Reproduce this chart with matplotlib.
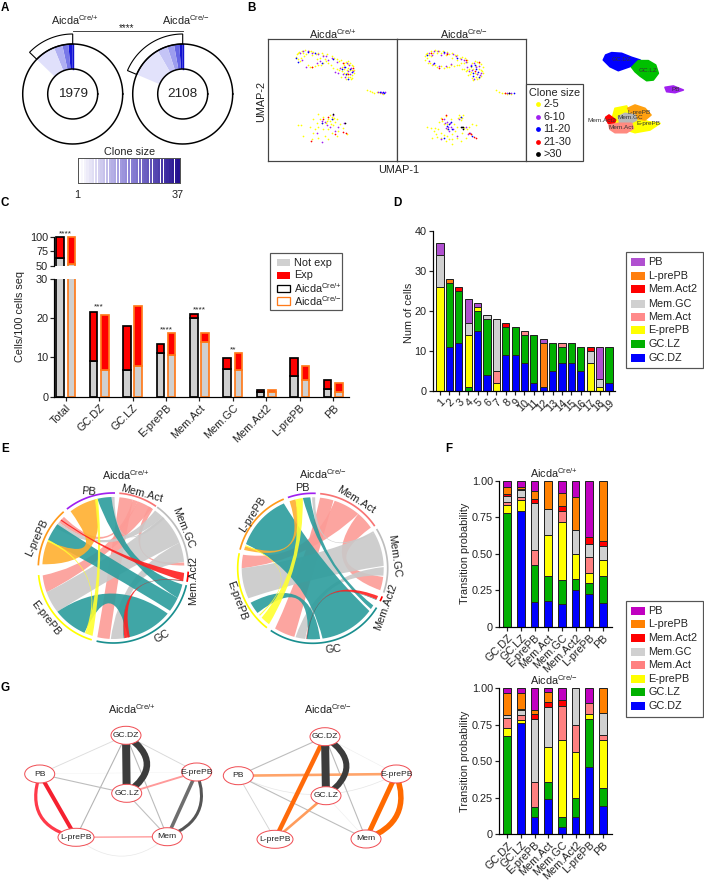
import numpy as np
import matplotlib
matplotlib.use("Agg")
import matplotlib.pyplot as plt
from matplotlib.colors import LinearSegmentedColormap
from matplotlib.patches import Ellipse, PathPatch, Polygon, Rectangle
from matplotlib.path import Path

plt.rcParams['font.family'] = ['Liberation Sans', 'DejaVu Sans']
plt.rcParams['mathtext.default'] = 'regular'

W, H = 704, 883
WT = 'Aicda$^{Cre/{+}}$'
KO = 'Aicda$^{Cre/{-}}$'

# ---- panel A
clone_totals = ['1979', '2108']
clone_edges_wt = [0, 5, 12, 22, 46]
clone_edges_ko = [0, 4, 10, 18, 30, 67]
clone_cols_wt = ['#1616d8', '#7878e8', '#b0b0f2', '#e0e0fb']
clone_cols_ko = ['#1212d0', '#6464e4', '#9c9cee', '#c4c4f6', '#e2e2fb']
clone_sizes = list(range(1, 38))

# ---- panel B, points as read from the two UMAP frames
umap_wt = {
    '#ffff00': [(85, 45), (92, 38), (100, 35), (110, 33), (122, 34), (135, 38), (148, 40), (160, 42), (175, 44),
                (190, 50), (205, 58), (218, 62), (232, 68), (245, 70), (255, 80), (240, 85), (228, 78), (222, 95),
                (235, 100), (250, 92), (258, 100), (245, 112), (232, 118), (218, 112), (205, 90), (195, 85),
                (180, 72), (165, 70), (150, 78), (130, 82), (118, 78), (88, 60), (98, 55), (108, 50), (155, 55),
                (170, 58), (240, 75), (228, 90), (252, 108), (297, 152), (305, 155), (318, 160), (335, 160),
                (345, 163), (135, 240), (150, 225), (165, 232), (180, 240), (190, 232), (198, 236), (205, 240),
                (160, 250), (172, 252), (185, 245), (150, 262), (140, 270), (125, 262), (165, 270), (180, 268),
                (195, 258), (215, 255), (225, 265), (210, 275), (190, 280), (170, 290), (150, 295), (130, 300),
                (105, 290), (135, 280), (88, 258), (98, 258), (205, 290), (180, 300), (235, 285),
                (82, 52), (88, 42), (105, 40), (128, 36), (142, 44), (165, 46), (198, 55), (212, 66), (226, 72),
                (238, 66), (250, 76), (244, 92), (232, 108), (256, 92), (226, 102), (212, 92), (188, 78), (172, 66),
                (158, 76), (140, 80), (124, 84), (94, 66), (112, 44), (130, 48), (146, 60), (238, 112), (252, 116),
                (248, 120), (220, 84), (236, 92), (310, 157), (325, 158), (186, 228), (194, 240), (176, 246),
                (156, 240), (145, 250), (200, 248), (188, 255)],
    '#a020f0': [(95, 40), (118, 35), (150, 45), (165, 50), (180, 62), (155, 65), (100, 62), (205, 68), (215, 85),
                (235, 72), (248, 85), (238, 95), (225, 105), (245, 105), (200, 98), (340, 162), (350, 158),
                (328, 158), (195, 228), (175, 258), (160, 245), (145, 282), (160, 308), (228, 250), (210, 262),
                (105, 36), (130, 40), (172, 50), (192, 56), (145, 72), (112, 82), (228, 84), (242, 78), (254, 96),
                (230, 114), (210, 100), (338, 158), (170, 248), (185, 262), (200, 275)],
    '#0000ff': [(83, 55), (90, 68), (140, 42), (160, 72), (195, 60), (230, 82), (250, 98), (240, 118), (222, 88),
                (345, 158), (335, 158), (190, 238), (160, 250), (244, 88), (234, 104), (120, 38), (348, 162)],
    '#ff0000': [(130, 83), (240, 105), (225, 72), (255, 85), (165, 240), (200, 285), (232, 282), (225, 278),
                (128, 305), (180, 232)],
    '#000000': [(195, 225), (230, 250)],
}
umap_ko = {
    '#ffff00': [(82, 50), (90, 40), (100, 36), (112, 33), (125, 34), (138, 36), (150, 38), (165, 42), (180, 46),
                (195, 52), (208, 62), (200, 72), (185, 76), (170, 80), (155, 82), (140, 85), (120, 84), (105, 78),
                (92, 70), (84, 62), (100, 50), (120, 42), (145, 48), (165, 55), (180, 62), (195, 90), (205, 95),
                (215, 88), (225, 72), (240, 68), (250, 75), (255, 95), (250, 110), (240, 120), (225, 115),
                (212, 108), (232, 100), (245, 90), (220, 98), (235, 80), (295, 153), (305, 158), (322, 162),
                (340, 165), (130, 235), (145, 230), (185, 228), (195, 235), (190, 242), (125, 248), (140, 255),
                (170, 255), (150, 270), (130, 280), (115, 285), (105, 295), (130, 295), (150, 290), (165, 300),
                (165, 315), (180, 295), (195, 280), (210, 270), (225, 255), (235, 258), (88, 263), (100, 265),
                (110, 275), (178, 262), (220, 285), (205, 295), (190, 305), (145, 305), (122, 270),
                (86, 44), (94, 48), (106, 42), (118, 36), (132, 40), (155, 44), (172, 48), (188, 56), (204, 56),
                (210, 68), (192, 72), (178, 78), (162, 76), (148, 84), (130, 80), (112, 76), (98, 72), (88, 56),
                (200, 88), (210, 92), (222, 84), (232, 66), (244, 72), (256, 84), (258, 102), (246, 116), (236, 112),
                (218, 104), (228, 90), (240, 104), (252, 92), (228, 122), (315, 160), (330, 164), (188, 234),
                (182, 235), (198, 228), (135, 245), (160, 240), (172, 275), (155, 298), (140, 288), (120, 292),
                (112, 265), (200, 265), (215, 262), (150, 255), (165, 285)],
    '#a020f0': [(95, 42), (110, 36), (130, 48), (150, 42), (175, 50), (190, 60), (160, 75), (125, 80), (95, 66),
                (205, 68), (230, 72), (245, 80), (225, 92), (238, 105), (215, 95), (250, 100), (328, 160),
                (342, 160), (150, 248), (160, 262), (145, 265), (155, 275), (140, 240), (185, 238), (130, 298),
                (205, 262), (212, 285), (104, 46), (122, 34), (140, 42), (168, 44), (200, 62), (145, 80), (108, 74),
                (222, 76), (236, 84), (248, 108), (230, 118), (210, 84), (152, 262), (158, 252), (168, 268),
                (142, 250), (180, 290), (218, 280)],
    '#0000ff': [(88, 48), (110, 72), (140, 38), (180, 55), (235, 88), (228, 110), (242, 98), (220, 80), (335, 160),
                (350, 160), (155, 255), (148, 260), (165, 268), (140, 295), (225, 290), (192, 232), (232, 76),
                (226, 100), (244, 112), (160, 248), (152, 270)],
    '#ff0000': [(100, 42), (125, 85), (150, 45), (205, 62), (232, 95), (245, 68), (322, 162), (135, 238), (145, 228),
                (215, 280), (230, 292), (235, 296), (222, 285)],
    '#000000': [(193, 264), (198, 262), (190, 262), (196, 268), (335, 161)],
}
clone_labels = ['2-5', '6-10', '11-20', '21-30', '>30']
clone_cols = ['#ffff00', '#a020f0', '#0000ff', '#ff0000', '#000000']
blobs = [
    ('#0000ff', [(55, 60), (62, 45), (80, 38), (110, 40), (140, 52), (165, 60), (178, 72), (160, 80), (140, 78),
                 (120, 85), (100, 92), (75, 80)]),
    ('#00c000', [(140, 82), (160, 62), (190, 62), (212, 75), (220, 100), (205, 120), (185, 122), (165, 108),
                 (150, 95)]),
    ('#a020f0', [(240, 142), (265, 138), (295, 150), (270, 158), (245, 155)]),
    ('#ffff00', [(80, 240), (90, 205), (125, 198), (135, 225), (190, 245), (225, 250), (195, 270), (150, 278),
                 (100, 262)]),
    ('#ffa010', [(128, 205), (150, 195), (180, 205), (198, 225), (180, 240), (150, 235)]),
    ('#b8b8b8', [(100, 230), (120, 220), (150, 225), (155, 240), (135, 250), (105, 250)]),
    ('#ff0000', [(62, 232), (72, 225), (92, 240), (85, 255), (70, 250)]),
    ('#ff8a80', [(72, 255), (100, 250), (140, 250), (145, 265), (125, 278), (90, 278), (75, 268)]),
]
blob_names = ['GC.DZ', 'GC.LZ', 'PB', 'L-prePB', 'Mem.GC', 'Mem.Act2', 'Mem.Act', 'E-prePB']
blob_spots = [(110, 58), (190, 90), (272, 148), (163, 218), (135, 232), (50, 241), (108, 262), (190, 252)]

# ---- panel C
expr_cats = ['Total', 'GC.DZ', 'GC.LZ', 'E-prePB', 'Mem.Act', 'Mem.GC', 'Mem.Act2', 'L-prePB', 'PB']
not_exp_wt = [63, 9.2, 6.7, 11, 20, 7, 1.3, 5.3, 1.9]
total_wt = [100, 21.5, 18, 13.5, 21, 9.9, 1.8, 9.8, 4.3]
not_exp_ko = [53, 6.7, 7.7, 10.5, 14, 6.7, 1.1, 4.3, 1.3]
total_ko = [100, 20.7, 23, 16.2, 16.2, 11, 1.8, 7.7, 3.4]
stars_c = {0: ('****', 104.2), 1: ('***', 22.8), 3: ('****', 16.9), 4: ('****', 22.1), 5: ('**', 12)}

# ---- panel D
state_names = ['GC.DZ', 'GC.LZ', 'E-prePB', 'Mem.Act', 'Mem.GC', 'Mem.Act2', 'L-prePB', 'PB']
d_cols = ['#0000ff', '#00b000', '#ffff00', '#ff8a8a', '#d0d0d0', '#ff0000', '#ff7f0e', '#b050d0']
clones = list(range(1, 20))
n_dz = [0, 11, 12, 0, 15, 4, 0, 9, 9, 7, 2, 1, 5, 7, 7, 5, 0, 0, 2]
n_lz = [0, 16, 13, 1, 5, 14, 0, 7, 7, 7, 12, 0, 7, 4, 5, 6, 0, 0, 9]
n_ep = [26, 0, 0, 13, 1, 0, 2, 0, 0, 0, 0, 0, 0, 0, 0, 0, 7, 1, 0]
n_ma = [0, 0, 0, 0, 0, 0, 3, 0, 0, 1, 0, 0, 0, 1, 0, 0, 0, 0, 0]
n_mg = [8, 0, 0, 3, 0, 1, 13, 0, 0, 0, 0, 0, 0, 0, 0, 0, 3, 2, 0]
n_a2 = [0, 0, 1, 0, 0, 0, 0, 1, 0, 0, 0, 0, 0, 0, 0, 0, 1, 0, 0]
n_lp = [0, 1, 0, 0, 0, 0, 0, 0, 0, 0, 0, 11, 0, 0, 0, 0, 0, 0, 0]
n_pb = [3, 0, 0, 6, 1, 0, 0, 0, 0, 0, 0, 1, 0, 0, 0, 0, 0, 8, 0]

# ---- panel F, cumulative tops per state, rows in order of state_names
f_cats = ['GC.DZ', 'GC.LZ', 'E-prePB', 'Mem.Act', 'Mem.GC', 'Mem.Act2', 'L-prePB', 'PB']
f_cols = ['#0000ff', '#00b000', '#ffff00', '#ff8080', '#d0d0d0', '#ff0000', '#ff8000', '#c000c0']
tops_wt = [
    [0, .79, .17, .175, .155, .25, .225, .165],
    [.78, .79, .42, .345, .32, .33, .30, .35],
    [.835, .87, .42, .63, .715, .495, .37, .455],
    [.855, .89, .525, .63, .795, .495, .475, .46],
    [.895, .935, .845, .805, .795, .665, .565, .555],
    [.91, .94, .875, .805, .83, .665, .615, .585],
    [.96, .96, .93, 1, .915, .885, .615, 1],
    [1, 1, 1, 1, 1, 1, 1, 1],
]
tops_ko = [
    [0, .76, .12, .24, .05, .12, .46, .19],
    [.675, .76, .185, .36, .12, .25, .79, .315],
    [.725, .785, .185, .595, .645, .56, .825, .645],
    [.795, .82, .355, .595, .88, .75, .90, .68],
    [.815, .85, .79, .87, .88, 1, .90, .83],
    [.82, .86, .825, .905, .92, 1, .90, .83],
    [.965, .97, .85, .975, .92, 1, .90, 1],
    [1, 1, 1, 1, 1, 1, 1, 1],
]

# ---- panel E, sectors and ribbons in degrees clockwise from 12 o'clock
sector_cols = {'Mem.Act': '#f87474', 'Mem.GC': '#bdbdbd', 'Mem.Act2': '#ff0000', 'GC': '#1a8f8f',
               'E-prePB': '#ffff00', 'L-prePB': '#ff9a1a', 'PB': '#a020f0'}
sectors_wt = {'Mem.Act': (4.6, 34.7), 'Mem.GC': (35.8, 88.5), 'Mem.Act2': (92.8, 100.6), 'GC': (103.2, 192.9),
              'E-prePB': (196.7, 264.6), 'L-prePB': (272, 318.6), 'PB': (321.8, 361.3)}
sectors_ko = {'Mem.Act': (5.7, 55.8), 'Mem.GC': (58.4, 108.9), 'Mem.Act2': (112, 116), 'GC': (121.6, 214),
              'E-prePB': (217.6, 281.6), 'L-prePB': (284.4, 337.3), 'PB': (340.7, 362.3)}
SALMON, GREY, TEAL, ORANGE, YEL, RED = '#fc9b96', '#c9c9c9', '#2b9c9c', '#ffb030', '#ffff30', '#ff2020'
ribbons_wt = [
    (5, 16, 183, 193, SALMON), (20, 33, 250, 264, SALMON), (16, 20, 310, 316, SALMON), (30, 34, 85.5, 88, SALMON),
    (36, 44, 305, 310, GREY), (44, 69, 232, 250, GREY), (69, 85, 170, 182, GREY), (358.5, 361, 44, 46, GREY),
    (347, 358.5, 103.5, 115, TEAL), (293, 308, 115, 127, TEAL), (204, 232, 130, 168, TEAL),
    (100.2, 100.8, 171, 171.5, '#2a7c7c'),
    (323, 346, 273, 292, ORANGE),
    (197, 202, 345, 347.5, YEL), (202, 203.5, 292, 293.5, YEL),
    (94, 100.5, 312, 313, RED), (166.5, 171, 100, 100.5, RED),
]
ribbons_ko = [
    (6, 17, 195, 212, SALMON), (18, 40, 270, 281, SALMON), (40, 55, 97, 108, SALMON),
    (60, 88, 245, 270, GREY), (89, 96, 186, 194, GREY), (359.5, 362, 58.5, 60, GREY),
    (290, 336, 127, 172, TEAL), (352, 358, 121.5, 125, TEAL), (231, 241, 174, 184, TEAL),
    (116, 116.5, 184, 185, '#2a7c7c'),
    (341, 346, 285, 288, ORANGE),
    (346, 352, 218, 226, YEL), (228, 229, 288, 289, YEL),
    (113, 116, 185, 185.3, RED),
]
chord_labels_wt = [('PB', 88.7, 491.7, -5), ('Mem.Act', 141.7, 493.3, -15), ('Mem.GC', 183.3, 528.3, -68),
                   ('Mem.Act2', 192.7, 580.7, 90), ('GC', 161.7, 636, 30), ('E-prePB', 46, 618.3, -52),
                   ('L-prePB', 37.3, 537.3, 65)]
chord_labels_ko = [('PB', 302.7, 488.3, 0), ('Mem.Act', 356, 500, -32), ('Mem.GC', 394.3, 556, -82),
                   ('Mem.Act2', 386, 606.7, 70), ('GC', 333.3, 649, 5), ('E-prePB', 237.3, 600.7, -70),
                   ('L-prePB', 252.7, 515, 57)]

# ---- panel G
nodes_wt = {'GC.DZ': (126, 735.3), 'PB': (39.7, 774), 'E-prePB': (196.7, 772), 'GC.LZ': (126.7, 793.3),
            'L-prePB': (76, 837.3), 'Mem': (167.3, 836.7)}
nodes_ko = {'GC.DZ': (325, 736.7), 'PB': (238.3, 775.7), 'E-prePB': (396.3, 774), 'GC.LZ': (326, 795.7),
            'L-prePB': (275, 839.3), 'Mem': (366, 839)}
edges_wt = [
    ('PB', 'E-prePB', .5, '#f2f2f2', 0), ('L-prePB', 'Mem', .7, '#e8e8e8', -.42), ('GC.DZ', 'PB', .9, '#dddddd', 0),
    ('GC.DZ', 'E-prePB', .9, '#d8d8d8', 0), ('GC.DZ', 'L-prePB', 1.1, '#b4b4b4', 0), ('GC.DZ', 'Mem', 1.1, '#bbbbbb', 0),
    ('PB', 'GC.LZ', 1.1, '#bdbdbd', 0), ('GC.LZ', 'Mem', 1.1, '#c0c0c0', 0), ('L-prePB', 'Mem', 1.6, '#ffa8a8', 0),
    ('GC.LZ', 'E-prePB', 1.9, '#ff9a9a', 0), ('GC.DZ', 'GC.LZ', 8, '#3c3c3c', 0), ('GC.DZ', 'GC.LZ', 6.5, '#3c3c3c', .71),
    ('PB', 'L-prePB', 4, '#f5202f', 0), ('PB', 'L-prePB', 3.2, '#ff3a4a', -.55),
    ('E-prePB', 'Mem', 3.5, '#6e6e6e', 0), ('E-prePB', 'Mem', 3, '#555555', .5),
]
edges_ko = [
    ('GC.DZ', 'E-prePB', .6, '#eeeeee', 0), ('PB', 'E-prePB', .7, '#e6e6e6', -.25), ('GC.LZ', 'Mem', .6, '#eeeeee', 0),
    ('GC.DZ', 'PB', 1.1, '#bdbdbd', 0), ('PB', 'L-prePB', .9, '#d4d4d4', 0), ('PB', 'Mem', 1.1, '#bdbdbd', 0),
    ('GC.DZ', 'Mem', 1.1, '#bbbbbb', 0), ('PB', 'E-prePB', 2.6, '#ffa46a', 0), ('GC.DZ', 'L-prePB', 4.5, '#ff6a0a', 0),
    ('L-prePB', 'GC.LZ', 2.6, '#ff9c5c', 0), ('GC.DZ', 'GC.LZ', 8, '#3c3c3c', 0), ('GC.DZ', 'GC.LZ', 6, '#3c3c3c', .71),
    ('E-prePB', 'Mem', 5, '#ff6a00', 0), ('E-prePB', 'Mem', 5.5, '#ff6a00', .5),
]


def px(v):
    return v * 0.72


def px_axes(x0, y0, x1, y1):
    return fig.add_axes([x0 / W, 1 - y1 / H, (x1 - x0) / W, (y1 - y0) / H])


def polar(cx, cy, r, a):
    t = np.radians(a)
    return cx + r * np.sin(t), cy - r * np.cos(t)


def ring(cx, cy, r0, r1, a0, a1):
    aa = np.linspace(a0, a1, 40)
    pts = [polar(cx, cy, r1, a) for a in aa] + [polar(cx, cy, r0, a) for a in aa[::-1]]
    return pts


def clean(ax, lw=1.2):
    for s in ['top', 'right']:
        ax.spines[s].set_visible(False)
    for s in ['left', 'bottom']:
        ax.spines[s].set_linewidth(px(lw))
    ax.patch.set_alpha(0)
    ax.tick_params(width=px(lw), length=px(4), labelsize=7.8, pad=1.5, color='#222222', labelcolor='#222222')


def legend_box(x0, y0, x1, y1, rows, labels, cols, sx=631, tx=648.3):
    ov.add_patch(Rectangle((x0, y0), x1 - x0, y1 - y0, fc='white', ec='#555555', lw=px(1.2)))
    for y, lab, c in zip(rows, labels, cols):
        ov.add_patch(Rectangle((sx, y - 4), 14, 8, fc=c, ec='none'))
        ov.text(tx, y, lab, fontsize=7.8, va='center', color='#222222')


def draw_donut(cx, cy, edges, cols):
    ov.add_patch(Polygon(ring(cx, cy, 25, 50, 0, 360), fc='white', ec='none'))
    for i, c in enumerate(cols):
        ov.add_patch(Polygon(ring(cx, cy, 25, 50, -edges[i + 1], -edges[i]), fc=c, ec='none'))
    ov.plot([cx, cx], [cy - 50, cy - 25], color='#1010d0', lw=px(1.4))
    th = np.linspace(0, 2 * np.pi, 200)
    for r in (25, 50):
        ov.plot(cx + r * np.cos(th), cy + r * np.sin(th), color='black', lw=px(1.5))
    ov.add_patch(Polygon(ring(cx, cy, 50, 60, -edges[-1], 0), fc='white', ec='black', lw=px(1.1)))


def chord_ctrl(cx, cy, r, a, b):
    # near-diametric edges stay straighter so a band keeps its width across the middle
    gap = abs(a - b) % 360
    gap = min(gap, 360 - gap)
    k = .05 + .9 * (gap / 180) ** 4
    p, q = np.array(polar(cx, cy, r, a)), np.array(polar(cx, cy, r, b))
    return tuple(np.array([cx, cy]) + k * ((p + q) / 2 - np.array([cx, cy])))


def draw_chord(cx, cy, sectors, ribbons):
    rib_r = 71
    for a0, a1, b0, b1, c in ribbons:
        aa = np.linspace(a0, a1, 16)
        bb = np.linspace(b0, b1, 16)
        verts = [polar(cx, cy, rib_r, a) for a in aa]
        codes = [Path.MOVETO] + [Path.LINETO] * 15
        verts += [chord_ctrl(cx, cy, rib_r, a1, b0), polar(cx, cy, rib_r, bb[0])]
        codes += [Path.CURVE3, Path.CURVE3]
        verts += [polar(cx, cy, rib_r, b) for b in bb[1:]]
        codes += [Path.LINETO] * 15
        verts += [chord_ctrl(cx, cy, rib_r, b1, a0), polar(cx, cy, rib_r, a0)]
        codes += [Path.CURVE3, Path.CURVE3]
        ov.add_patch(PathPatch(Path(verts, codes), fc=c, ec='none', alpha=.9))
    for name, (a0, a1) in sectors.items():
        xy = [polar(cx, cy, 75, a) for a in np.linspace(a0, a1, 60)]
        ov.plot(*zip(*xy), color=sector_cols[name], lw=px(1.7), solid_capstyle='butt')


def draw_net(nodes, edges):
    for a, b, lw, c, bulge in edges:
        p, q = np.array(nodes[a]), np.array(nodes[b])
        if bulge == 0:
            path = Path([p, q])
        else:
            d = q - p
            ctrl = (p + q) / 2 + bulge * np.array([d[1], -d[0]])
            path = Path([p, ctrl, q], [Path.MOVETO, Path.CURVE3, Path.CURVE3])
        ov.add_patch(PathPatch(path, fc='none', ec=c, lw=px(lw), capstyle='butt'))
    for name, (x, y) in nodes.items():
        w = 36 if name == 'L-prePB' else 30
        ov.add_patch(Ellipse((x, y), w, 18, fc='white', ec='#f04f55', lw=px(1), zorder=5))
        ov.text(x, y, name, fontsize=6.1, ha='center', va='center', color='#222222', zorder=6)


fig = plt.figure(figsize=(W / 100, H / 100), dpi=100)
ov = fig.add_axes([0, 0, 1, 1], zorder=10)
ov.set_xlim(0, W)
ov.set_ylim(H, 0)
ov.axis('off')
ov.patch.set_alpha(0)

for lab, x, y in [('A', 5, 8), ('B', 251, 8), ('C', 5, 203), ('D', 397, 203), ('E', 5, 449), ('F', 449, 449),
                  ('G', 5, 688)]:
    ov.text(x, y, lab, fontsize=8.4, fontweight='bold', ha='center', va='center')

# A
draw_donut(72.7, 94, clone_edges_wt, clone_cols_wt)
draw_donut(182.7, 94, clone_edges_ko, clone_cols_ko)
ov.text(72.7, 94, clone_totals[0], fontsize=9.7, ha='center', va='center', color='#222222')
ov.text(182.7, 94, clone_totals[1], fontsize=9.7, ha='center', va='center', color='#222222')
ov.text(75, 20, WT, fontsize=7.8, ha='center', va='center', color='#222222')
ov.text(186, 20, KO, fontsize=7.8, ha='center', va='center', color='#222222')
ov.plot([72.7, 182.7], [31, 31], color='#333333', lw=px(.9))
ov.text(127, 28.5, '****', fontsize=7, ha='center', va='center', color='#222222')
ov.text(130, 152, 'Clone size', fontsize=7.8, ha='center', va='center', color='#222222')
ov.text(77, 195, '1', fontsize=7.8, ha='center', va='center', color='#222222')
ov.text(178, 195, '37', fontsize=7.8, ha='center', va='center', color='#222222')
cb_ax = px_axes(78, 158, 180, 183)
clone_map = LinearSegmentedColormap.from_list('clone', ['#ffffff', '#8f86d8', '#24108f'])
cb_ax.bar(clone_sizes, 1, width=.85, color=clone_map(np.linspace(0, 1, len(clone_sizes))))
cb_ax.set_xlim(.5, 37.5)
cb_ax.set_ylim(0, 1)
cb_ax.set_xticks([])
cb_ax.set_yticks([])
for s in cb_ax.spines.values():
    s.set_color('#555555')
    s.set_linewidth(px(1))

# B
for pts, x0, x1, ttl, tx in [(umap_wt, 268.3, 397.3, WT, 333), (umap_ko, 397.3, 526.3, KO, 464)]:
    ua = px_axes(x0, 39.3, x1, 160.7)
    ua.set_xlim(0, 387)
    ua.set_ylim(364, 0)
    for c, xy in pts.items():
        ua.scatter(*zip(*xy), s=1.5, c=c, marker='o', linewidths=0)
    ua.set_xticks([])
    ua.set_yticks([])
    for s in ua.spines.values():
        s.set_color('#444444')
        s.set_linewidth(px(1.2))
    ov.text(tx, 34, ttl, fontsize=7.8, ha='center', va='center', color='#222222')
ov.text(260.7, 101, 'UMAP-2', fontsize=7.8, rotation=90, ha='center', va='center', color='#222222')
ov.text(399, 170, 'UMAP-1', fontsize=7.8, ha='center', va='center', color='#222222')
ov.add_patch(Rectangle((526.3, 84.3), 56.4, 76.4, fc='white', ec='#444444', lw=px(1.2)))
ov.text(554.5, 93, 'Clone size', fontsize=7.8, ha='center', va='center', color='#222222')
for y, lab, c in zip([104.3, 116.7, 129.3, 141.7, 154], clone_labels, clone_cols):
    ov.scatter([538.3], [y], s=12, c=c, linewidths=0)
    ov.text(543.5, y, lab, fontsize=7.8, va='center', color='#222222')
for c, poly in blobs:
    ov.add_patch(Polygon([(585 + x / 3, 40 + y / 3) for x, y in poly], fc=c, ec=c, lw=1.2, joinstyle='round'))
for name, (x, y) in zip(blob_names, blob_spots):
    ov.text(585 + x / 3, 40 + y / 3, name, fontsize=4.6, ha='center', va='center', color='#333333')

# C
c_low = px_axes(54.3, 278.7, 349, 396.7)
c_up = px_axes(54.3, 234.9, 349, 266)
xc = np.arange(len(expr_cats))
for ax in (c_low, c_up):
    for off, ne, tot, edge in [(-.17, not_exp_wt, total_wt, '#000000'), (.17, not_exp_ko, total_ko, '#ff7a1a')]:
        ne, tot = np.array(ne), np.array(tot)
        ax.bar(xc + off, ne, width=.225, color='#d0d0d0', edgecolor=edge, linewidth=px(1.7))
        ax.bar(xc + off, tot - ne, bottom=ne, width=.225, color='#ff0000', edgecolor=edge, linewidth=px(1.7))
    ax.set_xlim(-.34, 8.47)
    clean(ax)
c_low.set_ylim(0, 30)
c_low.set_yticks([0, 10, 20, 30])
c_low.set_xticks(xc)
c_low.set_xticklabels(expr_cats, rotation=45, ha='right', rotation_mode='anchor')
c_up.set_ylim(50, 103)
c_up.spines['left'].set_bounds(50, 100)
c_up.spines['bottom'].set_visible(False)
c_up.set_yticks([50, 75, 100])
c_up.set_xticks([])
ov.text(20, 316, 'Cells/100 cells seq', fontsize=7.8, rotation=90, ha='center', va='center', color='#222222')
for i, (st, v) in stars_c.items():
    ax = c_up if i == 0 else c_low
    ax.text(xc[i], v, st, fontsize=6, ha='center', va='center', color='#222222', clip_on=False)
ov.add_patch(Rectangle((270, 252.7), 72.3, 57.6, fc='white', ec='#555555', lw=px(1.2)))
for y, lab, fc, ec in [(262.5, 'Not exp', '#d0d0d0', 'none'), (275.5, 'Exp', '#ff0000', 'none'),
                       (288.3, WT, 'white', '#000000'), (301, KO, 'white', '#ff7a1a')]:
    ov.add_patch(Rectangle((276.5, y - 3.7), 13.5, 7.4, fc=fc, ec=ec, lw=px(1.3)))
    ov.text(294, y, lab, fontsize=7.8, va='center', color='#222222')

# D
d_ax = px_axes(432.7, 230.7, 615, 391.3)
d_series = [n_dz, n_lz, n_ep, n_ma, n_mg, n_a2, n_lp, n_pb]
base = np.zeros(len(clones))
for vals, c in zip(d_series, d_cols):
    vals = np.array(vals, float)
    keep = vals > 0
    d_ax.bar(np.array(clones)[keep], vals[keep], bottom=base[keep], width=.76, color=c, edgecolor='#222222',
             linewidth=px(1))
    base += vals
d_ax.set_xlim(1 - 7.3 / 9.39, 19 + 6 / 9.39)
d_ax.set_ylim(0, 40)
d_ax.set_yticks([0, 10, 20, 30, 40])
d_ax.set_xticks(clones)
d_ax.set_xticklabels(clones, rotation=45, ha='right', rotation_mode='anchor')
clean(d_ax)
ov.text(409, 312.7, 'Num of cells', fontsize=7.8, rotation=90, ha='center', va='center', color='#222222')
legend_box(626, 252.3, 703.3, 368.3, [262.3, 276, 289.3, 303.7, 317, 330.3, 343.7, 357.7], state_names[::-1],
           d_cols[::-1])

# E
draw_chord(113.3, 568, sectors_wt, ribbons_wt)
draw_chord(312.7, 568.3, sectors_ko, ribbons_ko)
ov.text(125.7, 475, WT, fontsize=7.8, ha='center', va='center', color='#222222')
ov.text(322.7, 474, KO, fontsize=7.8, ha='center', va='center', color='#222222')
for name, x, y, rot in chord_labels_wt + chord_labels_ko:
    ov.text(x, y, name, fontsize=7.8, rotation=rot, ha='center', va='center', color='#222222')

# F
for tops, y0, y1, ttl, ty in [(tops_wt, 480.7, 626.7, WT, 472.7), (tops_ko, 688.3, 834, KO, 680)]:
    fa = px_axes(499, y0, 611.7, y1)
    xf = np.arange(len(f_cats))
    low = np.zeros(len(f_cats))
    for row, c in zip(tops, f_cols):
        row = np.array(row)
        keep = row - low > 0
        fa.bar(xf[keep], (row - low)[keep], bottom=low[keep], width=.56, color=c, edgecolor='#222222',
               linewidth=px(1))
        low = row
    fa.set_xlim(-.607, 7.64)
    fa.set_ylim(0, 1)
    fa.set_yticks([0, .25, .5, .75, 1])
    fa.set_yticklabels(['0', '0.25', '0.50', '0.75', '1.00'])
    fa.set_xticks(xf)
    fa.set_xticklabels(f_cats, rotation=45, ha='right', rotation_mode='anchor')
    clean(fa)
    ov.text(465, (y0 + y1) / 2, 'Transition probability', fontsize=7.8, rotation=90, ha='center', va='center',
            color='#222222')
    ov.text(554, ty, ttl, fontsize=7.8, ha='center', va='center', color='#222222')
legend_box(625.7, 600.7, 703.3, 716.7, [610.7, 624.3, 638, 651.7, 665.3, 679, 692.3, 706], state_names[::-1],
           f_cols[::-1])

# G
draw_net(nodes_wt, edges_wt)
draw_net(nodes_ko, edges_ko)
ov.text(131.7, 709, WT, fontsize=7.8, ha='center', va='center', color='#222222')
ov.text(328, 709, KO, fontsize=7.8, ha='center', va='center', color='#222222')

fig.savefig('out.png', dpi=100)
